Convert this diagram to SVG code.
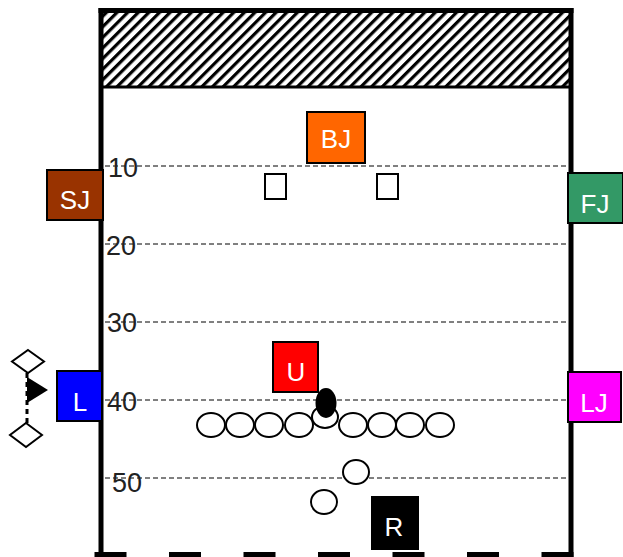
<svg xmlns="http://www.w3.org/2000/svg" width="623" height="557" viewBox="0 0 623 557">
<style>
.yl{stroke:#000;stroke-width:1;stroke-dasharray:5 3;fill:none}
.num{font-family:"Liberation Sans",Arial,sans-serif;font-size:27px;fill:#222}
.box{stroke:#000;stroke-width:2}
.lab{font-family:"Liberation Sans",Arial,sans-serif;font-size:26px;fill:#fff;text-anchor:middle}
.pl{fill:#fff;stroke:#000;stroke-width:2}
</style>
<defs>
<pattern id="hatch" patternUnits="userSpaceOnUse" width="7.5" height="10" patternTransform="rotate(45)">
<rect x="0" y="0" width="3.2" height="10" fill="#000"/>
</pattern>
</defs>
<rect width="623" height="557" fill="#fff"/>
<g id="field">
<rect x="101" y="10" width="470" height="77" fill="url(#hatch)"/>
<line x1="101" y1="87" x2="571" y2="87" stroke="#000" stroke-width="3"/>
<line x1="98.5" y1="10.5" x2="573.5" y2="10.5" stroke="#000" stroke-width="5"/>
<line x1="101" y1="8" x2="101" y2="557" stroke="#000" stroke-width="5"/>
<line x1="571" y1="8" x2="571" y2="557" stroke="#000" stroke-width="5"/>
<line x1="94.5" y1="554.5" x2="575" y2="554.5" stroke="#000" stroke-width="5" stroke-dasharray="32 42.5"/>
</g>
<g id="yardlines">
<line class="yl" x1="105" y1="166" x2="569" y2="166"/>
<line class="yl" x1="105" y1="244" x2="569" y2="244"/>
<line class="yl" x1="105" y1="322" x2="569" y2="322"/>
<line class="yl" x1="105" y1="400" x2="569" y2="400"/>
<line class="yl" x1="105" y1="478" x2="569" y2="478"/>
<text class="num" x="108" y="177">10</text>
<text class="num" x="106" y="255">20</text>
<text class="num" x="107" y="332">30</text>
<text class="num" x="107" y="411">40</text>
<text class="num" x="112" y="492">50</text>
</g>
<g id="connectors">
<line x1="27" y1="373" x2="27" y2="423" stroke="#000" stroke-width="3" stroke-dasharray="5 4"/>
</g>
<g id="marker">
<polygon points="28,350 44,361.5 28,373 12,361.5" class="pl"/>
<polygon points="26,423 42,435 26,447 10,435" class="pl"/>
<polygon points="27,377 48,390 27,403" fill="#000"/>
</g>
<g id="BJ"><rect class="box" x="307" y="112" width="58" height="51" fill="#FF6600"/><text class="lab" x="336" y="148">BJ</text></g>
<g id="SJ"><rect class="box" x="47" y="170" width="56" height="50" fill="#993300"/><text class="lab" x="75" y="209">SJ</text></g>
<g id="FJ"><rect class="box" x="568" y="173" width="55" height="50" fill="#339966"/><text class="lab" x="595" y="213">FJ</text></g>
<g id="L"><rect class="box" x="57" y="371" width="45" height="50" fill="#0000FF"/><text class="lab" x="80" y="411">L</text></g>
<g id="LJ"><rect class="box" x="568" y="372" width="53" height="50" fill="#FF00FF"/><text class="lab" x="594" y="412">LJ</text></g>
<g id="U"><rect class="box" x="273" y="342" width="45" height="50" fill="#FF0000"/><text class="lab" x="296" y="381">U</text></g>
<g id="R"><rect class="box" x="372" y="497" width="46" height="52" fill="#000"/><text class="lab" x="394" y="536">R</text></g>
<g id="defense">
<rect class="pl" x="265" y="174" width="21" height="25"/>
<rect class="pl" x="377" y="174" width="21" height="25"/>
</g>
<g id="offense">
<ellipse class="pl" cx="211" cy="425" rx="14" ry="12"/>
<ellipse class="pl" cx="240" cy="425" rx="14" ry="12"/>
<ellipse class="pl" cx="269" cy="425" rx="14" ry="12"/>
<ellipse class="pl" cx="299" cy="425" rx="14" ry="12"/>
<ellipse class="pl" cx="325" cy="417" rx="13" ry="11"/>
<ellipse class="pl" cx="353" cy="425" rx="14" ry="12"/>
<ellipse class="pl" cx="382" cy="425" rx="14" ry="12"/>
<ellipse class="pl" cx="410" cy="425" rx="14" ry="12"/>
<ellipse class="pl" cx="440" cy="425" rx="14" ry="12"/>
<ellipse class="pl" cx="356" cy="472" rx="13" ry="12"/>
<ellipse class="pl" cx="324" cy="502" rx="13" ry="12"/>
</g>
<g id="ball"><ellipse cx="326" cy="403" rx="10.5" ry="15" fill="#000"/></g>
</svg>
